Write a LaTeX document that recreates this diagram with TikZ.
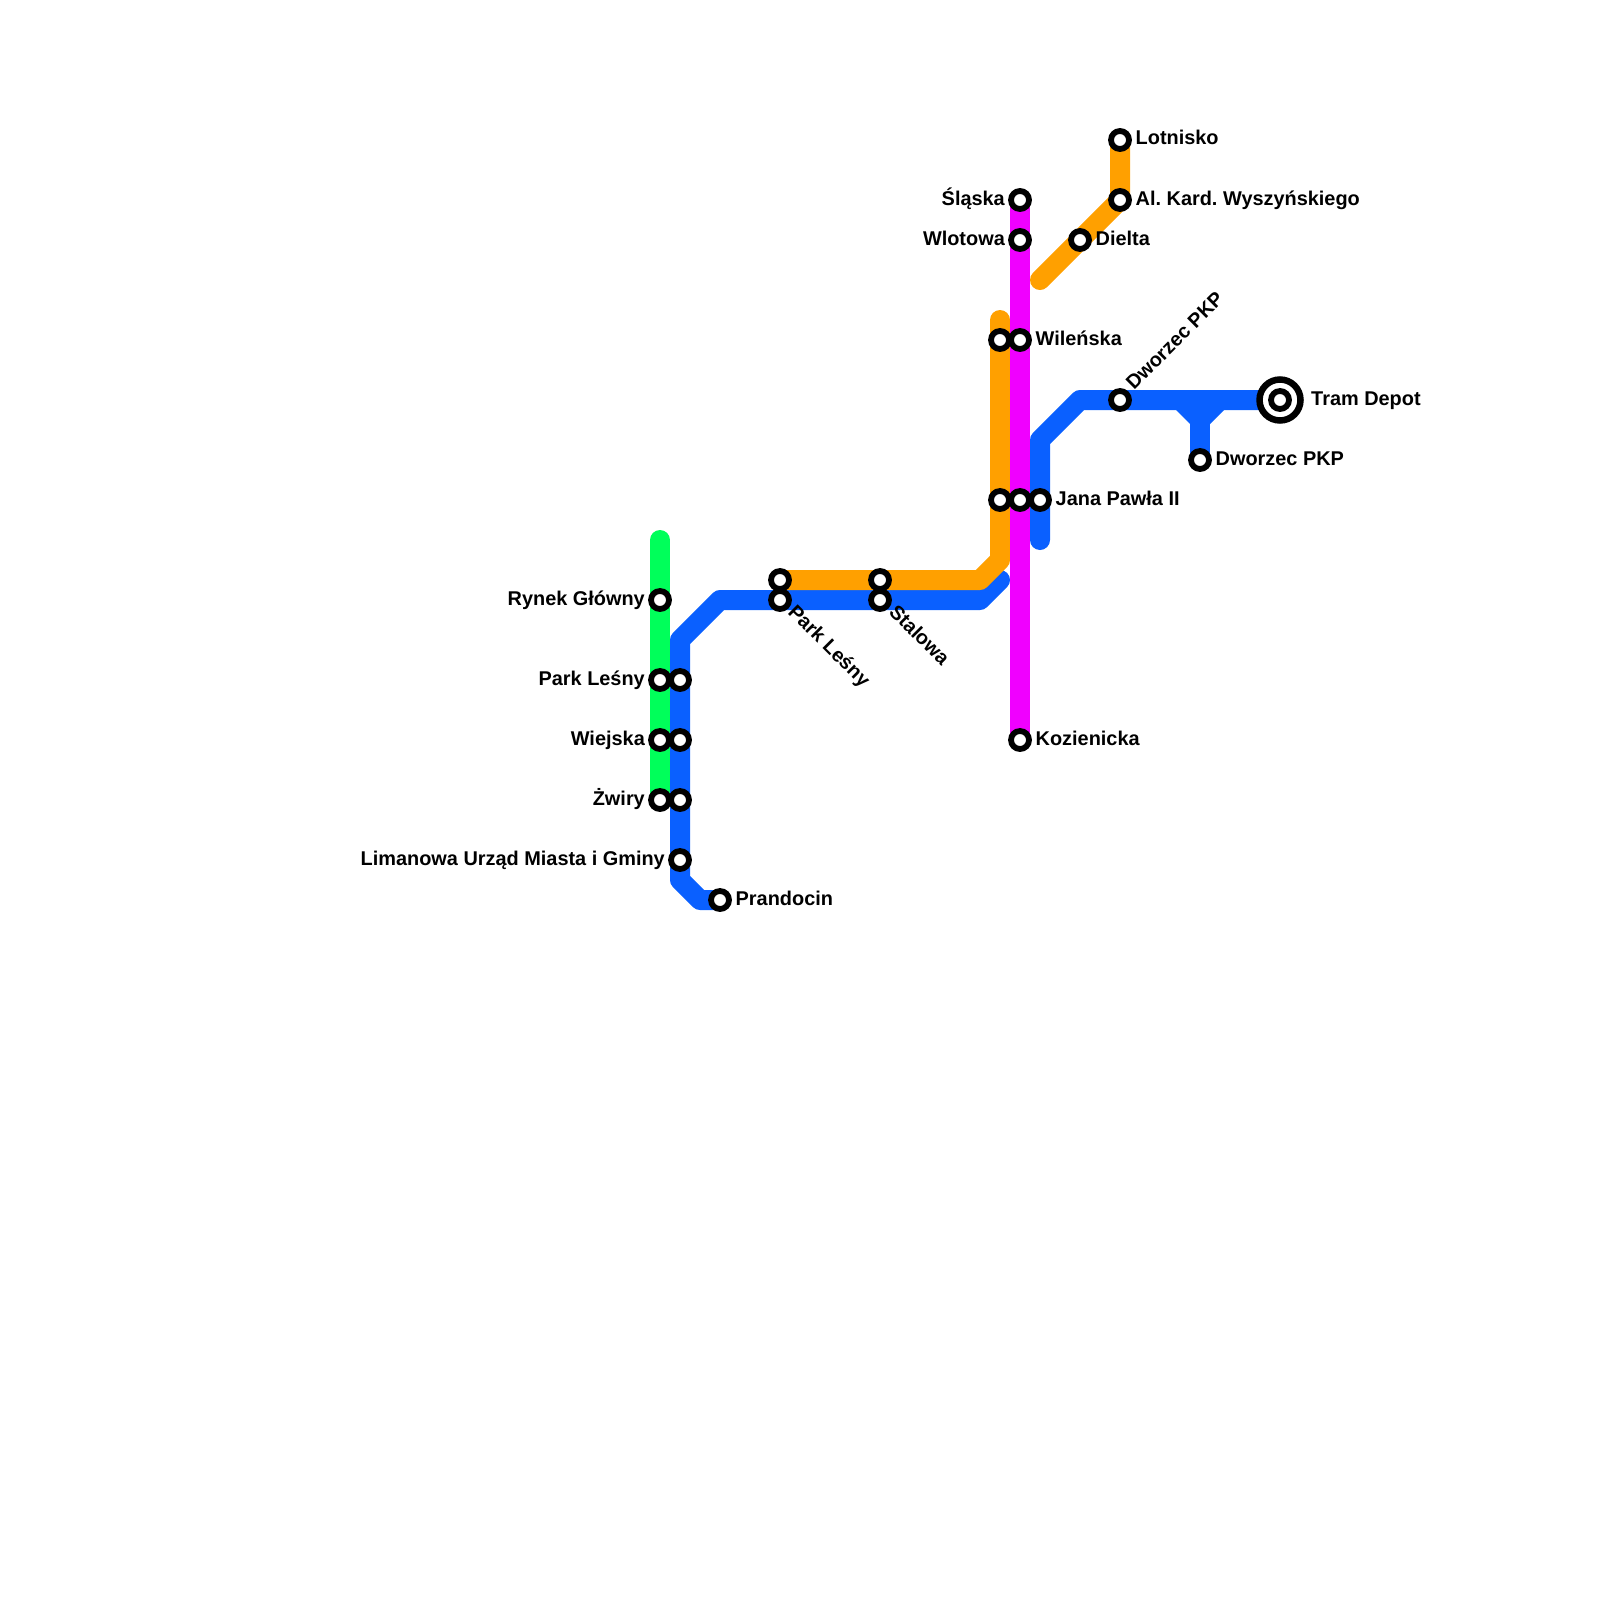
\documentclass[tikz,border=0pt]{standalone}
\usepackage{fontspec}
\setmainfont{Liberation Sans}
\frenchspacing
\definecolor{lgreen}{HTML}{00FF5A}
\definecolor{lblue}{HTML}{0A60FF}
\definecolor{lorange}{HTML}{FFA000}
\definecolor{lmag}{HTML}{F000FF}
\tikzset{
  metro/.style={line width=20pt,line cap=round,line join=round},
  stn/.style={circle,draw=black,fill=white,line width=5.8pt,outer sep=0pt,minimum size=18pt,inner sep=0pt},
  ring/.style={circle,draw=black,line width=6.5pt,outer sep=0pt,minimum size=41pt,inner sep=0pt,fill=white},
  lab/.style={font=\bfseries\fontsize{19.9pt}{22pt}\selectfont,inner sep=0pt,text=black},
  labr/.style={lab,anchor=base west},
  labl/.style={lab,anchor=base east},
}
\begin{document}
\begin{tikzpicture}[x=1pt,y=-1pt]
\useasboundingbox[fill=white] (0,0) rectangle (1600,1600);
% free ends and bends
\coordinate (gtop) at (660,540);
\coordinate (gbot) at (660,800);
\coordinate (bend) at (1000,580);
\coordinate (oend) at (1000,320);
\coordinate (oend2) at (1040,280);
\coordinate (mtop) at (1020,200);
\coordinate (bend2) at (1040,540);
% stations (positions)
\coordinate (rynek) at (660,600);
\coordinate (parkg) at (660,680);
\coordinate (wiejg) at (660,740);
\coordinate (zwig) at (660,800);
\coordinate (parkb) at (680,680);
\coordinate (wiejb) at (680,740);
\coordinate (zwib) at (680,800);
\coordinate (liman) at (680,860);
\coordinate (pran) at (720,900);
\coordinate (plo) at (780,580);
\coordinate (plb) at (780,600);
\coordinate (sto) at (880,580);
\coordinate (stb) at (880,600);
\coordinate (wilo) at (1000,340);
\coordinate (jano) at (1000,500);
\coordinate (slask) at (1020,200);
\coordinate (wlot) at (1020,240);
\coordinate (wilm) at (1020,340);
\coordinate (janm) at (1020,500);
\coordinate (koz) at (1020,740);
\coordinate (janb) at (1040,500);
\coordinate (dwo) at (1120,400);
\coordinate (dwb) at (1200,460);
\coordinate (depot) at (1280,400);
\coordinate (lot) at (1120,140);
\coordinate (wysz) at (1120,200);
\coordinate (diel) at (1080,240);
% lines
\draw[metro,lgreen] (gtop) -- (gbot);
\draw[metro,lblue] (pran) -- (700,900) -- (680,880) -- (680,640) -- (720,600) -- (980,600) -- (bend);
\draw[metro,lblue] (bend2) -- (1040,440) -- (1080,400) -- (depot);
\fill[lblue] (1166,400) -- (1234,400) -- (1210,424) -- (1190,424) -- cycle;
\draw[metro,lblue] (dwb) -- (1200,400);
\draw[metro,lorange] (plo) -- (980,580) -- (1000,560) -- (oend);
\draw[metro,lorange] (lot) -- (wysz) -- (oend2);
\draw[metro,lmag] (mtop) -- (koz);
% station markers
\foreach \s in {rynek,parkg,wiejg,zwig,parkb,wiejb,zwib,liman,pran,plo,plb,sto,stb,wilo,jano,slask,wlot,wilm,janm,koz,janb,dwo,dwb,lot,wysz,diel}
  \node[stn] (n\s) at (\s) {};
\node[ring] (ndepotr) at (depot) {};
\node[stn] (ndepot) at (depot) {};
% labels
\node[labl] (t1) at (645,605) {Rynek Główny};
\node[labl] (t2) at (645,685) {Park Leśny};
\node[labl] (t3) at (645,745) {Wiejska};
\node[labl] (t4) at (645,805) {Żwiry};
\node[labl] (t5) at (665,865) {Limanowa Urząd Miasta i Gminy};
\node[labr] (t6) at (735.5,905) {Prandocin};
\node[labl] (t7) at (1005,205) {Śląska};
\node[labl] (t8) at (1005,245) {Wlotowa};
\node[labr] (t9) at (1035.5,345) {Wileńska};
\node[labr] (t10) at (1055.5,505) {Jana Pawła II};
\node[labr] (t11) at (1035.5,745) {Kozienicka};
\node[labr] (t12) at (1135.5,145) {Lotnisko};
\node[labr] (t13) at (1135.5,205) {Al. Kard. Wyszyńskiego};
\node[labr] (t14) at (1095.5,245) {Dielta};
\node[labr] (t15) at (1215.5,465) {Dworzec PKP};
\node[labr] (t16) at (1311,405) {Tram Depot};
\node[lab,anchor=base west,rotate=45] (t17) at (1134,391) {Dworzec PKP};
\node[lab,anchor=base west,rotate=-45] (t18) at (787,613) {Park Leśny};
\node[lab,anchor=base west,rotate=-45] (t19) at (888,613) {Stalowa};
\end{tikzpicture}
\end{document}
